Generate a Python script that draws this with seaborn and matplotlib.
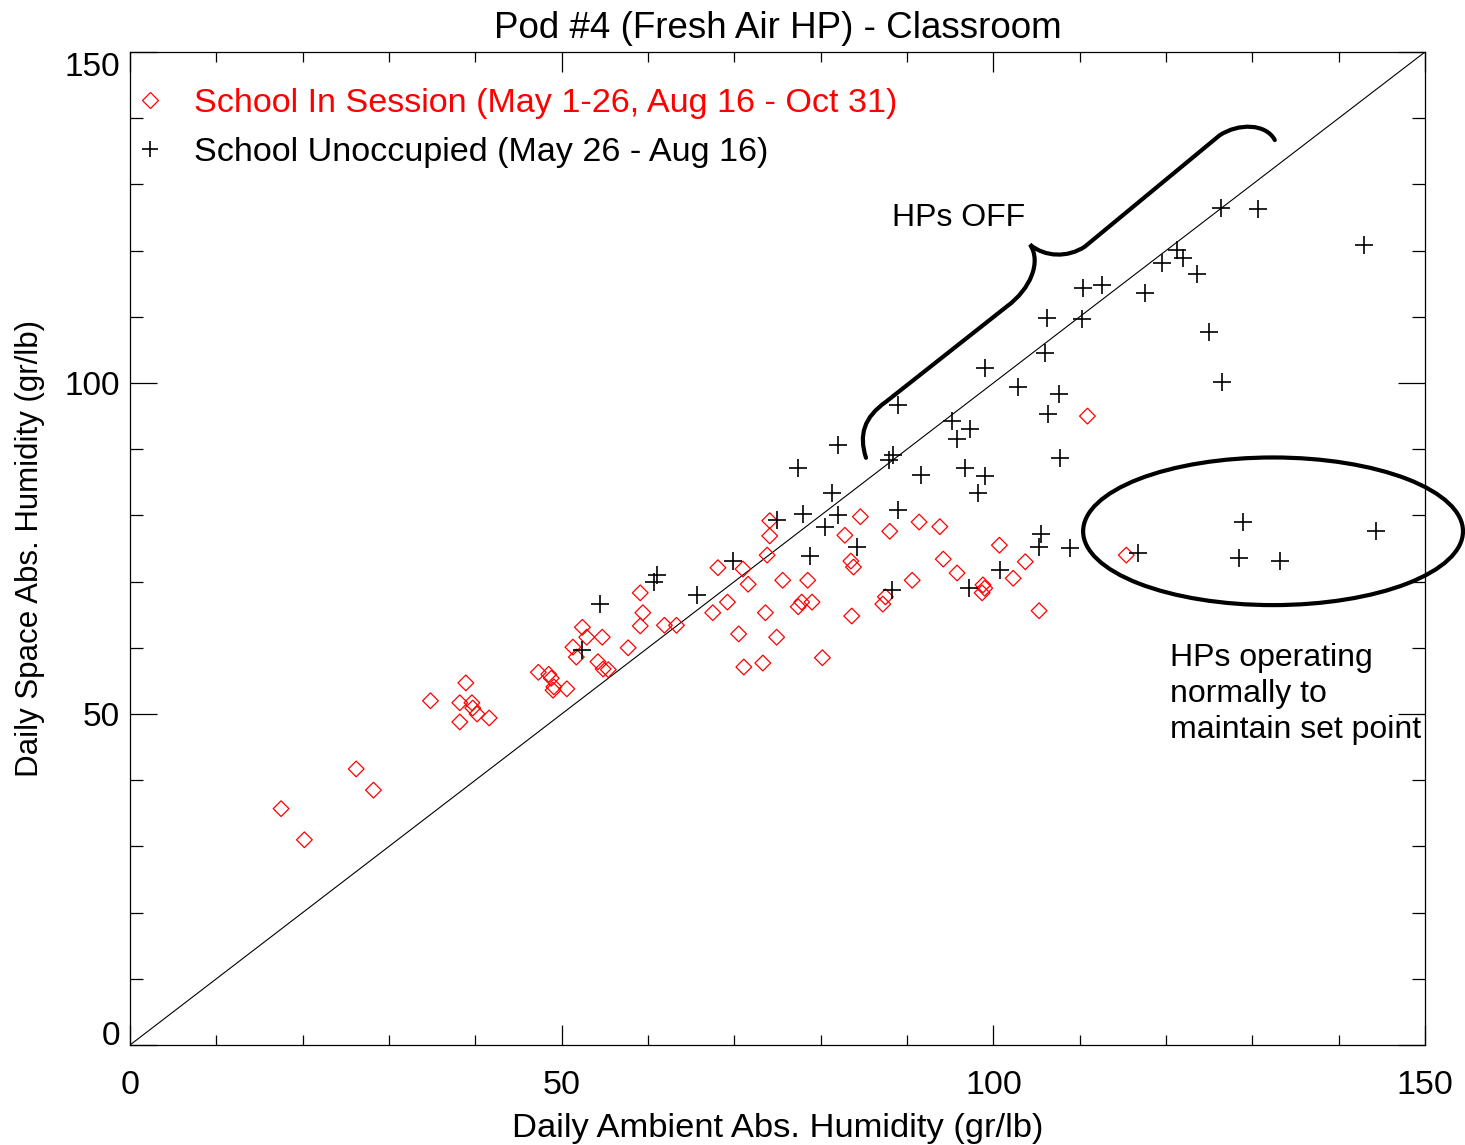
import numpy as np
import pandas as pd
import matplotlib
matplotlib.use("Agg")
import matplotlib.pyplot as plt
import seaborn as sns
from matplotlib.lines import Line2D
from matplotlib.patches import Ellipse, PathPatch
from matplotlib.path import Path

# ---------------- data ----------------
session_x = [17.5, 20.2, 26.2, 28.2, 34.8, 38.9, 38.2, 39.6, 39.7, 40.2,
             41.6, 38.2, 47.3, 48.5, 48.8, 49.1, 49.0, 50.6, 52.4, 52.9,
             54.7, 51.3, 51.7, 54.2, 54.8, 55.4, 57.7, 59.1, 59.4, 59.1,
             61.9, 63.3, 67.5, 69.2, 68.1, 71.0, 71.6, 73.8, 74.1, 74.1,
             75.6, 78.5, 73.6, 70.5, 74.9, 71.1, 73.3, 77.4, 77.8, 79.0,
             80.2, 84.6, 82.8, 83.5, 83.8, 83.6, 88.0, 87.2, 87.5, 91.4,
             93.8, 94.2, 95.8, 90.6, 100.7, 103.7, 102.3, 98.8, 99.0, 98.7,
             105.3, 110.9, 115.4]
session_y = [35.7, 31.0, 41.7, 38.5, 52.0, 54.7, 51.7, 51.7, 50.9, 50.0,
             49.4, 48.8, 56.3, 56.0, 55.4, 54.1, 53.6, 53.8, 63.1, 61.6,
             61.6, 60.1, 58.6, 57.9, 56.8, 56.7, 60.0, 68.3, 65.3, 63.3,
             63.4, 63.4, 65.3, 66.9, 72.1, 71.9, 69.6, 74.0, 76.9, 79.2,
             70.2, 70.2, 65.3, 62.1, 61.6, 57.1, 57.7, 66.2, 66.9, 66.9,
             58.5, 79.8, 77.0, 73.1, 72.2, 64.8, 77.6, 66.6, 67.7, 79.0,
             78.3, 73.4, 71.3, 70.2, 75.5, 73.0, 70.5, 69.5, 69.0, 68.3,
             65.6, 95.0, 74.0]

unocc_x = [52.4, 54.4, 61.0, 60.7, 65.7, 69.9, 74.9, 78.0, 77.4, 81.3,
           80.5, 82.0, 84.2, 78.8, 82.0, 88.3, 89.0, 88.4, 89.0, 91.6,
           95.2, 95.8, 97.3, 96.7, 99.0, 98.2, 99.0, 102.9, 100.8, 97.2,
           106.0, 106.2, 106.3, 107.6, 107.7, 105.5, 105.3, 108.9, 110.3, 110.4,
           112.6, 117.6, 119.5, 121.3, 122.0, 123.6, 125.0, 126.5, 126.4, 130.7,
           142.9, 116.8, 128.9, 128.5, 133.2, 144.3, 87.9]
unocc_y = [59.7, 66.6, 71.0, 69.9, 68.0, 73.1, 79.3, 80.2, 87.2, 83.4,
           78.3, 80.1, 75.2, 73.9, 90.6, 68.7, 80.8, 89.1, 96.7, 86.1,
           94.3, 91.5, 93.1, 87.2, 86.0, 83.4, 102.3, 99.4, 71.8, 69.0,
           104.5, 109.8, 95.3, 98.3, 88.7, 77.2, 75.2, 75.1, 109.7, 114.4,
           114.8, 113.6, 118.1, 120.1, 118.9, 116.5, 107.7, 100.2, 126.4, 126.3,
           120.9, 74.3, 79.0, 73.6, 73.1, 77.6, 88.4]

session_label = "School In Session (May 1-26, Aug 16 - Oct 31)"
unocc_label = "School Unoccupied (May 26 - Aug 16)"
title = "Pod #4 (Fresh Air HP) - Classroom"
xlabel = "Daily Ambient Abs. Humidity (gr/lb)"
ylabel = "Daily Space Abs. Humidity (gr/lb)"
major_ticks = [0, 50, 100, 150]
minor_ticks = list(range(0, 151, 10))
note_off = "HPs OFF"
note_on = "HPs operating\nnormally to\nmaintain set point"

# ---------------- style ----------------
sns.set_style("white")
plt.rcParams["font.family"] = ["Liberation Sans", "DejaVu Sans"]
plt.rcParams["text.color"] = "black"
plt.rcParams["axes.labelcolor"] = "black"
plt.rcParams["xtick.color"] = "black"
plt.rcParams["ytick.color"] = "black"
plt.rcParams["axes.titlecolor"] = "black"

W, H = 1465, 1145
fig = plt.figure(figsize=(W / 100, H / 100), dpi=100)
ax = fig.add_axes([130 / W, 1 - 1045 / H, 1295 / W, 993 / H])

df_s = pd.DataFrame({"x": session_x, "y": session_y})
df_u = pd.DataFrame({"x": unocc_x, "y": unocc_y})

# diagonal 1:1 line
ax.plot([0, 150], [0, 150], color="black", lw=0.8, zorder=1)

sns.scatterplot(data=df_s, x="x", y="y", marker="D", s=64, ax=ax, legend=False, zorder=3)
coll = ax.collections[-1]
coll.set_facecolor("none")
coll.set_edgecolor("red")
coll.set_linewidth(0.9)

sns.scatterplot(data=df_u, x="x", y="y", marker="+", s=150, color="black",
                linewidth=1.2, ax=ax, legend=False, zorder=4)

ax.set_xlim(0, 150)
ax.set_ylim(0, 150)
ax.set_xticks(major_ticks)
ax.set_xticks(minor_ticks, minor=True)
ax.set_yticks(major_ticks)
ax.set_yticks(minor_ticks, minor=True)

ax.tick_params(axis="x", which="major", direction="in", length=14.4, width=0.9,
               top=True, bottom=True, pad=18, labelsize=24.5, color="black")
ax.tick_params(axis="x", which="minor", direction="in", length=7.2, width=0.9,
               top=True, bottom=True, color="black")
ax.tick_params(axis="y", which="major", direction="in", length=19.4, width=0.9,
               left=True, right=True, pad=7, labelsize=24, color="black")
ax.tick_params(axis="y", which="minor", direction="in", length=9.7, width=0.9,
               left=True, right=True, color="black")
for sp in ax.spines.values():
    sp.set_color("black")
    sp.set_linewidth(0.9)

yt = ax.yaxis.get_major_ticks()
yt[0].label1.set_va("baseline")
yt[-1].label1.set_va("top")

ax.set_xlabel(xlabel, fontsize=24.8, labelpad=9)
ax.set_ylabel(ylabel, fontsize=22.5, labelpad=14)
ax.set_title(title, fontsize=26.5, pad=10)

# legend
handles = [
    Line2D([], [], marker="D", linestyle="none", markersize=8.5, markerfacecolor="none",
           markeredgecolor="red", markeredgewidth=0.9),
    Line2D([], [], marker="+", linestyle="none", markersize=12, color="black",
           markeredgewidth=1.2),
]
leg = ax.legend(handles, [session_label, unocc_label], loc="upper left",
                bbox_to_anchor=(0.002, 0.964), frameon=False, fontsize=24.6,
                handlelength=1.0, handletextpad=0.8, borderpad=0, borderaxespad=0,
                labelspacing=0.52, numpoints=1)
leg.get_texts()[0].set_color("red")
leg.get_texts()[1].set_color("black")

# annotations: brace and ellipse
verts = [(85.25, 88.7), (84.4, 92.2), (85.0, 94.8), (87.6, 97.2),
         (101.6, 111.6),
         (104.3, 114.2), (105.6, 118.3), (104.25, 120.9),
         (106.0, 119.0), (108.6, 118.9), (110.6, 120.6),
         (126.2, 137.4),
         (128.4, 139.3), (131.6, 139.2), (132.6, 136.7)]
codes = [Path.MOVETO, Path.CURVE4, Path.CURVE4, Path.CURVE4,
         Path.LINETO,
         Path.CURVE4, Path.CURVE4, Path.CURVE4,
         Path.CURVE4, Path.CURVE4, Path.CURVE4,
         Path.LINETO,
         Path.CURVE4, Path.CURVE4, Path.CURVE4]
ax.add_patch(PathPatch(Path(verts, codes), facecolor="none", edgecolor="black",
                       lw=3.0, clip_on=False, zorder=5, capstyle="round"))
ax.add_patch(Ellipse((132.4, 77.6), 44.0, 22.3, facecolor="none", edgecolor="black",
                     lw=3.0, clip_on=False, zorder=5))

ax.text(88.3, 125.0, note_off, fontsize=23, ha="left", va="center")
ax.text(120.5, 53.0, note_on, fontsize=23, ha="left", va="center", linespacing=1.27)

fig.savefig("out.png", dpi=100)
